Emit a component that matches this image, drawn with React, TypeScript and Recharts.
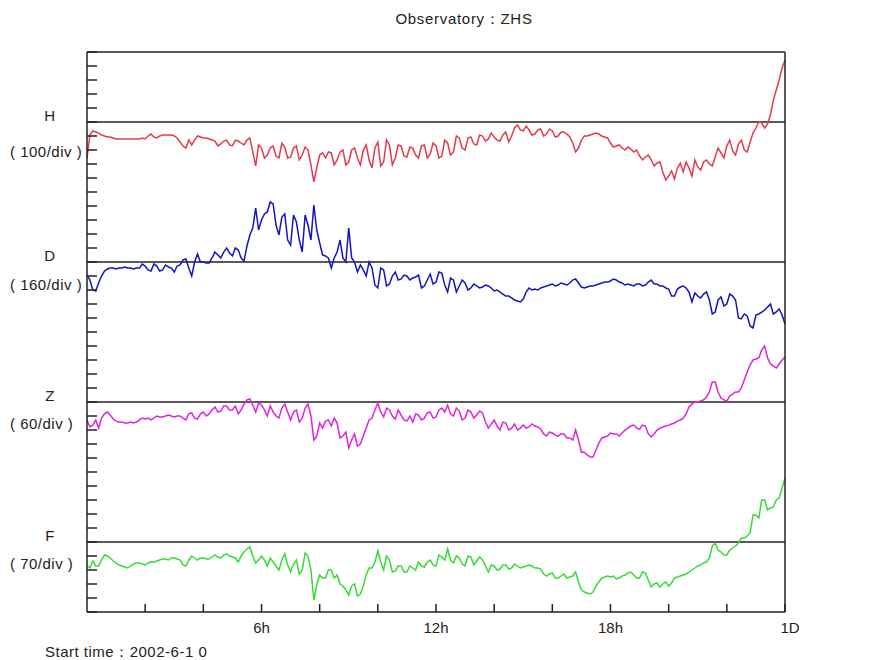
import { LineChart, Line, XAxis, YAxis, ReferenceLine } from 'recharts';

// readings every 6 minutes; "on" = on the 12-minute grid, "mid" = the 6 minutes between
const HOURS_PER_STEP = 0.1;

// offsets from each channel's reference value, in the channel's own units
const hOn = [
  -257, -64, -79, -100, -107, -121, -121, -121, -121, -121, -121,
  -86, -114, -93, -93, -100, -143, -186, -164, -100, -114,
  -121, -136, -157, -129, -171, -136, -164, -114, -314, -186,
  -236, -171, -257, -179, -250, -171, -236, -200, -428, -236,
  -257, -221, -271, -200, -286, -186, -307, -164, -328, -143,
  -286, -164, -257, -171, -250, -186, -257, -164, -228, -171,
  -243, -150, -214, -114, -200, -107, -164, -100, -121, -107,
  -136, -71, -100, -21, -64, -57, -86, -50, -86, -64,
  -100, -71, -107, -214, -129, -100, -86, -86, -107, -150,
  -171, -186, -179, -214, -243, -250, -271, -293, -357, -386,
  -407, -293, -286, -386, -321, -286, -300, -250, -221, -171,
  -207, -157, -200, -143, -43, -7, -14, 157, 300, 443,
];
const hMid = [
  -93, -71, -93, -107, -114, -121, -121, -121, -121, -114,
  -100, -107, -100, -93, -93, -114, -171, -129, -129, -107,
  -114, -129, -171, -136, -164, -129, -150, -129, -214, -164,
  -257, -186, -243, -150, -257, -186, -271, -179, -307, -328,
  -221, -214, -307, -214, -307, -200, -257, -200, -271, -186,
  -314, -129, -307, -164, -243, -179, -236, -171, -257, -150,
  -257, -129, -236, -100, -186, -114, -157, -93, -136, -79,
  -129, -93, -143, -43, -57, -29, -93, -57, -100, -50,
  -107, -71, -86, -150, -186, -100, -93, -79, -100, -114,
  -179, -164, -200, -193, -200, -271, -236, -314, -286, -414,
  -350, -328, -357, -328, -271, -343, -271, -314, -186, -257,
  -129, -236, -129, -214, -79, 0, -43, 50, 228, 386,
];
const dOn = [
  -149, -320, -240, -103, -69, -80, -69, -69, -80, -69, -46,
  -103, -46, -91, -57, -114, -34, 34, -160, 91, 0,
  -11, 114, 46, 160, 69, 137, 11, 309, 617, 480,
  572, 663, 309, 549, 194, 457, 114, 423, 651, 217,
  69, -69, 114, 46, 389, 0, -34, -160, -69, -297,
  -91, -251, -114, -194, -160, -183, -149, -274, -137, -229,
  -126, -343, -206, -274, -240, -297, -274, -286, -274, -331,
  -343, -389, -411, -446, -423, -297, -309, -297, -274, -251,
  -263, -251, -240, -194, -286, -286, -274, -251, -229, -217,
  -206, -240, -251, -274, -251, -263, -206, -251, -274, -309,
  -389, -286, -297, -457, -389, -366, -434, -572, -400, -480,
  -389, -640, -594, -731, -606, -572, -514, -594, -537, -709,
];
const dMid = [
  -206, -331, -160, -80, -69, -69, -57, -69, -69, -23,
  -91, -23, -103, -34, -69, -46, 23, -69, 0, 0,
  -11, 46, 80, 114, 103, 160, 46, 183, 389, 366,
  549, 686, 423, 514, 251, 537, 251, 537, 251, 366,
  80, 46, 46, 251, 0, 46, -114, -91, 0, -263,
  -69, -274, -160, -206, -149, -206, -171, -297, -206, -251,
  -114, -263, -183, -343, -206, -320, -251, -297, -263, -297,
  -320, -366, -389, -434, -457, -343, -320, -320, -286, -263,
  -274, -240, -263, -206, -240, -297, -274, -263, -240, -229,
  -194, -229, -263, -263, -251, -274, -229, -251, -274, -297,
  -389, -309, -274, -343, -354, -411, -343, -594, -434, -503,
  -366, -434, -651, -617, -754, -594, -549, -480, -571, -606,
];
const zOn = [
  -77, -99, -112, -51, -56, -82, -86, -90, -90, -77, -73,
  -77, -60, -64, -56, -64, -60, -77, -47, -73, -43,
  -51, -21, -39, -17, -34, -51, -9, 13, -43, -13,
  -60, -43, -69, -9, -77, -34, -69, -9, -163, -90,
  -82, -103, -90, -146, -197, -137, -180, -112, -69, -4,
  -64, -34, -73, -56, -82, -86, -56, -69, -43, -64,
  -26, -13, -60, -39, -69, -43, -56, -47, -112, -77,
  -120, -90, -112, -120, -99, -107, -103, -116, -146, -133,
  -146, -137, -154, -120, -215, -227, -236, -176, -150, -133,
  -137, -133, -112, -99, -116, -103, -150, -120, -107, -99,
  -90, -77, -51, -9, 0, 9, 43, 86, 17, 4,
  34, 43, 94, 159, 184, 223, 189, 154, 163, 193,
];
const zMid = [
  -107, -77, -69, -43, -73, -86, -90, -86, -86, -69,
  -69, -69, -64, -60, -60, -60, -69, -51, -69, -51,
  -60, -34, -43, -17, -34, -17, -34, 9, -13, -4,
  -34, -17, -60, -26, -43, -43, -86, -26, -60, -146,
  -112, -77, -69, -154, -129, -163, -189, -146, -77, -34,
  -43, -26, -60, -34, -77, -60, -51, -77, -47, -69,
  -34, -43, -51, -26, -77, -34, -69, -39, -86, -94,
  -103, -86, -120, -94, -112, -112, -94, -107, -137, -129,
  -142, -137, -154, -163, -163, -215, -236, -206, -154, -146,
  -137, -146, -120, -103, -112, -99, -137, -137, -112, -103,
  -94, -82, -69, -21, 0, 4, 21, 86, 43, 9,
  26, 43, 60, 129, 180, 189, 240, 163, 146, 180,
];
const fOn = [
  -115, -95, -120, -65, -80, -105, -120, -130, -110, -105, -115,
  -100, -95, -85, -90, -80, -90, -120, -70, -90, -80,
  -85, -65, -80, -60, -75, -100, -50, -25, -105, -70,
  -120, -100, -140, -60, -150, -90, -140, -70, -290, -165,
  -180, -140, -165, -220, -265, -210, -260, -165, -130, -45,
  -140, -90, -145, -120, -150, -130, -100, -125, -90, -120,
  -75, -35, -105, -80, -120, -75, -95, -90, -150, -120,
  -135, -115, -130, -120, -125, -115, -130, -135, -170, -155,
  -180, -160, -175, -150, -240, -255, -250, -200, -175, -175,
  -185, -170, -155, -165, -180, -155, -225, -205, -210, -220,
  -180, -170, -160, -140, -120, -105, -80, -5, -50, -65,
  -30, -5, 20, 45, 135, 210, 160, 175, 220, 320,
];
const fMid = [
  -130, -120, -90, -70, -95, -115, -125, -120, -105, -110,
  -105, -100, -90, -85, -80, -85, -115, -90, -80, -80,
  -85, -75, -75, -65, -70, -80, -70, -35, -70, -90,
  -90, -80, -120, -90, -115, -110, -160, -55, -140, -215,
  -180, -140, -180, -210, -240, -220, -270, -220, -130, -100,
  -100, -70, -150, -120, -150, -120, -140, -120, -100, -115,
  -65, -90, -90, -70, -110, -70, -115, -75, -120, -115,
  -140, -115, -135, -110, -130, -120, -120, -130, -160, -160,
  -180, -170, -180, -170, -200, -250, -260, -220, -180, -170,
  -170, -180, -165, -150, -180, -150, -190, -210, -225, -200,
  -205, -175, -165, -150, -130, -115, -100, -20, -40, -65,
  -40, -20, 20, 30, 135, 120, 210, 170, 210, 270,
];

const channelNames = ['H', 'D', 'Z', 'F'];
const referenceValues = [171936, 1697288, 508939, 537200];
const unitsPerDiv = [100, 160, 60, 70];
const channelOn = [hOn, dOn, zOn, fOn];
const channelMid = [hMid, dMid, zMid, fMid];

const hourTicks = [2, 4, 6, 8, 10, 12, 14, 16, 18, 20, 22, 24];
const hourLabels: Record<number, string> = { 6: '6h', 12: '12h', 18: '18h', 24: '1D' };

// layout: the plot is 40 divisions tall, each channel sits on its own baseline
const DIV_TICKS = Array.from({ length: 41 }, (_, i) => i);
const ROW_BASE = [35, 25, 15, 5];
const COLORS = ['#e63a4c', '#1414c0', '#de24de', '#34dc34'];
const SCALE_DY = [35, 28, 27, 27];
const FONT = '"Liberation Sans", Arial, sans-serif';
const INK = '#222';

const data: Record<string, number>[] = [];
for (let k = 0; k < hOn.length * 2 - 1; k++) {
  const i = k >> 1;
  const row: Record<string, number> = { t: +(k * HOURS_PER_STEP).toFixed(2) };
  channelNames.forEach((name, c) => {
    const offset = k % 2 === 0 ? channelOn[c][i] : channelMid[c][i];
    row[name] = ROW_BASE[c] + offset / unitsPerDiv[c];
  });
  data.push(row);
}

function HourTick({ x, y, payload }: any) {
  const label = hourLabels[payload?.value];
  if (!label) return null;
  // "1D" sits a little right of the last tick in the original
  const dx = payload.value === 24 ? 5 : 0;
  return (
    <text x={x + dx} y={y} dy="0.71em" textAnchor="middle" fontSize={15} fill={INK} fontFamily={FONT}>
      {label}
    </text>
  );
}

function ChannelTick({ x, y, payload }: any) {
  const c = ROW_BASE.indexOf(payload?.value);
  if (c < 0) return null;
  return (
    <g fontFamily={FONT} fontSize={15} fill={INK} letterSpacing={0.5}>
      <text x={x - 47} y={y - 1} textAnchor="middle">{channelNames[c]}</text>
      <text x={x - 87} y={y + SCALE_DY[c]}>( {unitsPerDiv[c]}/div )</text>
    </g>
  );
}

export default function App() {
  return (
    <div style={{ position: 'absolute', left: 0, top: 0, width: 869, height: 660, background: '#fff' }}>
      <LineChart width={869} height={660} data={data} margin={{ top: 52, right: 0, bottom: 18, left: 0 }}>
        <XAxis
          dataKey="t"
          type="number"
          domain={[0, 24]}
          ticks={hourTicks}
          interval={0}
          height={30}
          tickSize={-8}
          tickMargin={18}
          stroke={INK}
          strokeWidth={1.5}
          tick={<HourTick />}
        />
        <YAxis
          yAxisId="l"
          type="number"
          domain={[0, 40]}
          ticks={DIV_TICKS}
          interval={0}
          width={87}
          tickSize={-10}
          tickMargin={0}
          stroke={INK}
          strokeWidth={1.5}
          tick={<ChannelTick />}
        />
        <YAxis
          yAxisId="r"
          orientation="right"
          type="number"
          domain={[0, 40]}
          ticks={DIV_TICKS}
          interval={0}
          width={84}
          tickSize={-7}
          tickMargin={22}
          stroke={INK}
          strokeWidth={1.5}
          tick={{ fontSize: 15, fill: INK, fontFamily: FONT, letterSpacing: 1 }}
          tickFormatter={(v: number) => {
            const c = ROW_BASE.indexOf(v);
            return c >= 0 ? String(referenceValues[c]) : '';
          }}
        />
        <ReferenceLine yAxisId="l" y={40} stroke={INK} strokeWidth={1.5} />
        {ROW_BASE.map((base) => (
          <ReferenceLine key={base} yAxisId="l" y={base} stroke={INK} strokeWidth={1.5} />
        ))}
        {channelNames.map((name, c) => (
          <Line
            key={name}
            yAxisId="l"
            type="linear"
            dataKey={name}
            stroke={COLORS[c]}
            strokeWidth={1.5}
            dot={false}
            activeDot={false}
            isAnimationActive={false}
          />
        ))}
      </LineChart>
      <svg width={869} height={660} style={{ position: 'absolute', left: 0, top: 0, pointerEvents: 'none' }}>
        <text x={464} y={24} textAnchor="middle" fontSize={15} fill={INK} fontFamily={FONT} letterSpacing={0.7}>
          Observatory：ZHS
        </text>
        <text x={45} y={657} fontSize={15} fill={INK} fontFamily={FONT} letterSpacing={0.5}>
          Start time：2002-6-1 0
        </text>
      </svg>
    </div>
  );
}
